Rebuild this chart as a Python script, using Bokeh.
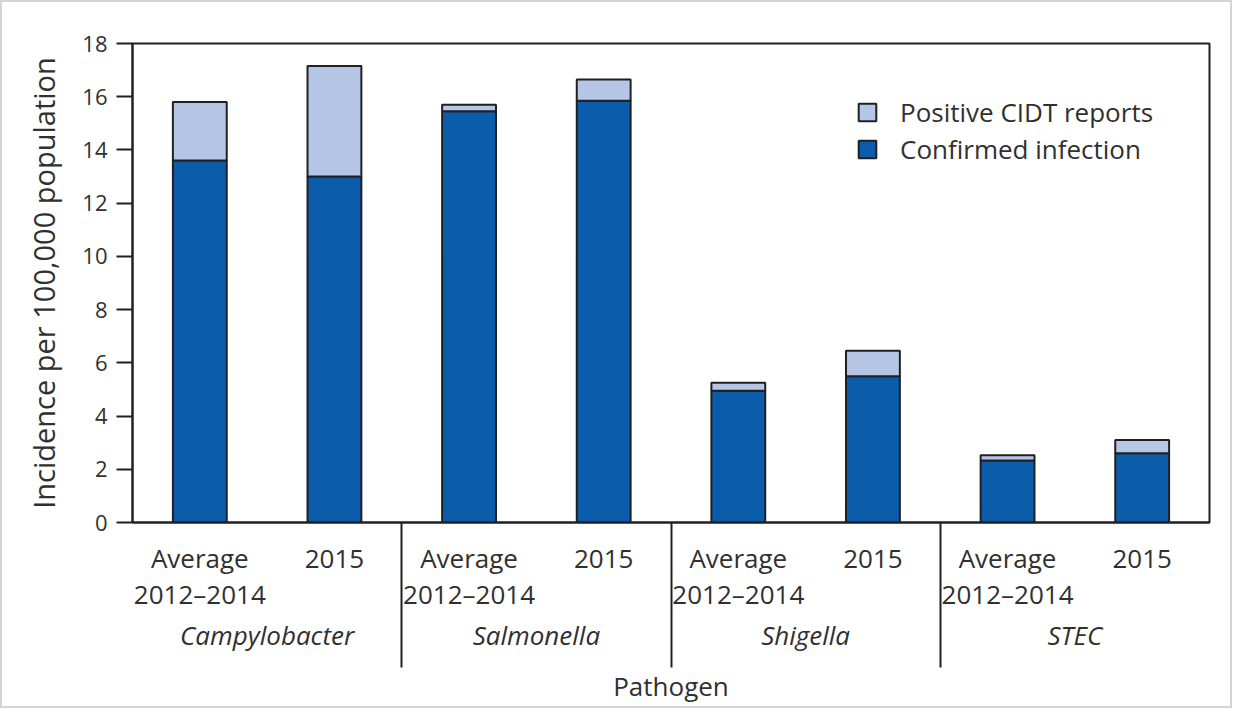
from bokeh.plotting import figure
from bokeh.models import Range1d, Legend, LegendItem, FixedTicker, ColumnDataSource, LinearAxis
from bokeh.embed import file_html
from bokeh.resources import INLINE

pathogens = ["Campylobacter", "Salmonella", "Shigella", "STEC"]
periods = [["Average", "2012–2014"], ["2015"]]
confirmed = [13.6, 13.0, 15.45, 15.85, 4.95, 5.5, 2.33, 2.6]
cidt = [2.2, 4.15, 0.25, 0.8, 0.3, 0.95, 0.2, 0.5]
y_ticks = [0, 2, 4, 6, 8, 10, 12, 14, 16, 18]

n_per = len(periods)
n_bars = len(pathogens) * n_per
xpos = [i + 0.5 for i in range(n_bars)]
src = ColumnDataSource(dict(x=xpos, confirmed=confirmed, cidt=cidt))

FONT = "Open Sans"
TXT = "#303030"
DARK = "#0b5dab"
LIGHT = "#b5c6e6"
LINE = "#202020"
SEP_LEN = 145

p = figure(x_range=Range1d(0, n_bars), y_range=Range1d(0, 18), width=1232, height=708,
           output_backend="svg", toolbar_location=None,
           min_border_left=130, min_border_right=25, min_border_top=41, min_border_bottom=188)
p.styles = {"border": "2px solid #d4d4d4", "box-sizing": "border-box"}

r = p.vbar_stack(["confirmed", "cidt"], x="x", width=0.4, source=src,
                 color=[DARK, LIGHT], line_color=LINE, line_width=2)

p.xgrid.grid_line_color = None
p.ygrid.grid_line_color = None
p.outline_line_color = LINE
p.outline_line_width = 2

p.yaxis.ticker = FixedTicker(ticks=y_ticks)
p.yaxis.axis_label = "Incidence per 100,000 population"
p.yaxis.axis_label_text_font = FONT
p.yaxis.axis_label_text_font_size = "29px"
p.yaxis.axis_label_text_font_style = "normal"
p.yaxis.axis_label_text_color = TXT
p.yaxis.axis_label_standoff = 16
p.yaxis.major_label_text_font = FONT
p.yaxis.major_label_text_font_size = "22px"
p.yaxis.major_label_text_color = TXT
p.yaxis.major_label_standoff = 9
p.yaxis.axis_line_width = 2
p.yaxis.axis_line_color = LINE
p.yaxis.major_tick_line_width = 2
p.yaxis.major_tick_line_color = LINE
p.yaxis.major_tick_in = 0
p.yaxis.major_tick_out = 16
p.yaxis.minor_tick_line_color = None

seps = [n_per * (k + 1) for k in range(len(pathogens) - 1)]


def style_x(ax, standoff, italic=False):
    ax.major_label_text_font = FONT
    ax.major_label_text_font_size = "26px"
    ax.major_label_text_color = TXT
    ax.major_label_text_font_style = "italic" if italic else "normal"
    ax.major_label_standoff = standoff
    ax.major_label_orientation = "horizontal"
    ax.major_tick_in = 0
    ax.major_tick_out = 0
    ax.major_tick_line_color = None


# level 1: first line of the period labels, plus the group separators (minor ticks)
ax1 = p.xaxis[0]
ax1.ticker = FixedTicker(ticks=xpos, minor_ticks=seps)
ax1.major_label_overrides = {xpos[g * n_per + j]: periods[j][0]
                             for g in range(len(pathogens)) for j in range(n_per)}
style_x(ax1, 17 - SEP_LEN)
ax1.axis_line_color = LINE
ax1.axis_line_width = 2
ax1.minor_tick_in = 0
ax1.minor_tick_out = SEP_LEN
ax1.minor_tick_line_color = LINE
ax1.minor_tick_line_width = 2

# level 2: second line of the period labels
sec = {xpos[g * n_per + j]: periods[j][1]
       for g in range(len(pathogens)) for j in range(n_per) if len(periods[j]) > 1}
ax2 = LinearAxis(ticker=FixedTicker(ticks=list(sec.keys())), major_label_overrides=sec)
style_x(ax2, -3)
ax2.axis_line_color = None
ax2.minor_tick_line_color = None
p.add_layout(ax2, "below")

# level 3: pathogen names
gpos = [(g + 0.5) * n_per for g in range(len(pathogens))]
ax3 = LinearAxis(ticker=FixedTicker(ticks=gpos),
                 major_label_overrides={gp: name for gp, name in zip(gpos, pathogens)})
style_x(ax3, 2, italic=True)
ax3.axis_line_color = None
ax3.minor_tick_line_color = None
ax3.axis_label = "Pathogen"
ax3.axis_label_text_font = FONT
ax3.axis_label_text_font_size = "26px"
ax3.axis_label_text_font_style = "normal"
ax3.axis_label_text_color = TXT
ax3.axis_label_standoff = 12
p.add_layout(ax3, "below")

legend = Legend(items=[LegendItem(label="Positive CIDT reports", renderers=[r[1]]),
                       LegendItem(label="Confirmed infection", renderers=[r[0]])],
                location=(724, 355))
legend.border_line_color = None
legend.background_fill_alpha = 0
legend.label_text_font = FONT
legend.label_text_font_size = "26px"
legend.label_text_color = TXT
legend.glyph_width = 22
legend.glyph_height = 22
legend.label_standoff = 22
legend.spacing = 1
legend.margin = 0
legend.padding = 0
p.add_layout(legend)

open("out.html", "w").write(file_html(p, INLINE))
